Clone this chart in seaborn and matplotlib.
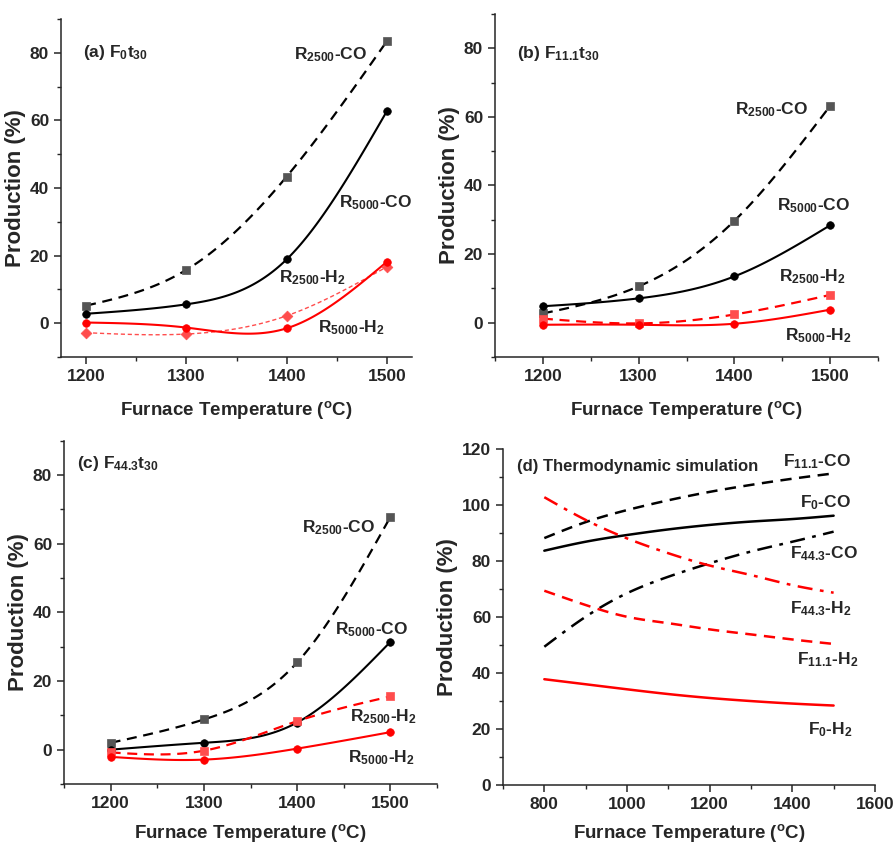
import numpy as np
import seaborn as sns
import matplotlib.pyplot as plt
from matplotlib import font_manager
from matplotlib.ticker import MultipleLocator

# furnace experiments (panels a-c)
temps = [1200, 1300, 1400, 1500]

a_r2500_co = [5.2, 15.8, 43.4, 83.5]
a_r5000_co = [2.8, 5.6, 18.9, 62.8]
a_r2500_h2 = [-2.8, -3.2, 2.2, 16.7]
a_r5000_h2 = [0.2, -1.3, -1.5, 18.2]

b_r2500_co = [2.7, 10.6, 29.7, 63.2]
b_r5000_co = [4.8, 7.1, 13.5, 28.4]
b_r2500_h2 = [1.2, -0.2, 2.4, 8.1]
b_r5000_h2 = [-0.6, -0.6, -0.3, 3.8]

c_r2500_co = [2.0, 8.8, 25.4, 67.8]
c_r5000_co = [0.0, 2.0, 7.9, 31.4]
c_r2500_h2 = [-0.8, -0.3, 8.3, 15.5]
c_r5000_h2 = [-2.1, -2.9, 0.3, 5.1]

# thermodynamic simulation (panel d)
sim_temps = [800, 900, 1000, 1100, 1200, 1300, 1400, 1500]
f111_co = [88.3, 94.0, 98.3, 101.8, 104.8, 107.3, 109.5, 111.4]
f0_co = [83.8, 87.0, 89.4, 91.4, 93.0, 94.2, 95.1, 96.3]
f443_co = [49.5, 60.2, 68.6, 74.5, 79.3, 83.5, 87.0, 90.6]
f443_h2 = [102.9, 94.8, 88.2, 82.9, 78.5, 75.1, 71.5, 68.8]
f111_h2 = [69.5, 64.4, 60.2, 57.9, 55.7, 53.9, 52.1, 50.5]
f0_h2 = [37.9, 36.1, 34.3, 32.6, 31.2, 30.1, 29.2, 28.5]

sns.set_style("ticks")
names = {f.name for f in font_manager.fontManager.ttflist}
fam = "Liberation Sans Narrow" if "Liberation Sans Narrow" in names else "Liberation Sans"
plt.rcParams["font.family"] = [fam, "DejaVu Sans"]
plt.rcParams["font.weight"] = "bold"
plt.rcParams["axes.labelweight"] = "bold"
plt.rcParams["mathtext.fontset"] = "custom"
for k in ["rm", "it", "bf", "sf"]:
    plt.rcParams["mathtext." + k] = fam + ":bold"
plt.rcParams["mathtext.default"] = "rm"


def spline(x, y, n=120):
    # natural cubic spline, used only to draw the connecting line smoothly
    x = np.asarray(x, float)
    y = np.asarray(y, float)
    k = len(x)
    h = np.diff(x)
    A = np.zeros((k, k))
    r = np.zeros(k)
    A[0, 0] = A[-1, -1] = 1
    for i in range(1, k - 1):
        A[i, i - 1] = h[i - 1]
        A[i, i] = 2 * (h[i - 1] + h[i])
        A[i, i + 1] = h[i]
        r[i] = 3 * ((y[i + 1] - y[i]) / h[i] - (y[i] - y[i - 1]) / h[i - 1])
    c = np.linalg.solve(A, r)
    b = (y[1:] - y[:-1]) / h - h * (2 * c[:-1] + c[1:]) / 3
    d = (c[1:] - c[:-1]) / (3 * h)
    xs = np.linspace(x[0], x[-1], n)
    idx = np.clip(np.searchsorted(x, xs) - 1, 0, k - 2)
    dx = xs - x[idx]
    return xs, y[idx] + b[idx] * dx + c[idx] * dx ** 2 + d[idx] * dx ** 3


def curve(ax, x, y, color, ls, lw, marker=None, mcolor=None, s=30):
    xs, ys = spline(x, y)
    sns.lineplot(x=xs, y=ys, ax=ax, color=color, linestyle=ls, linewidth=lw,
                 estimator=None, sort=False)
    if marker:
        sns.scatterplot(x=x, y=y, ax=ax, color=mcolor, marker=marker, s=s,
                        edgecolor=mcolor, linewidth=0.5, zorder=5)


def style(ax, xlim, ylim, xmaj, xmin, ymaj, ymin, pad=11):
    ax.set_xlim(*xlim)
    ax.set_ylim(*ylim)
    ax.xaxis.set_major_locator(MultipleLocator(xmaj))
    ax.xaxis.set_minor_locator(MultipleLocator(xmin))
    ax.yaxis.set_major_locator(MultipleLocator(ymaj))
    ax.yaxis.set_minor_locator(MultipleLocator(ymin))
    sns.despine(ax=ax)
    for s in ["left", "bottom"]:
        ax.spines[s].set_linewidth(1.1)
    ax.tick_params(which="major", length=5, width=1.1, labelsize=12.5)
    ax.tick_params(which="minor", length=3, width=1.0)
    ax.set_xlabel(r"Furnace Temperature ($^{o}$C)", fontsize=13.5, labelpad=pad)
    ax.set_ylabel("Production (%)", fontsize=16, labelpad=3)


def label(ax, x, y, s, ha="center", size=12.5):
    ax.text(x, y, s, ha=ha, va="center", fontsize=size, fontweight="bold")


fig = plt.figure(figsize=(8.95, 8.47), dpi=100)
ax_a = fig.add_axes([0.0682, 0.5785, 0.3922, 0.399])
ax_b = fig.add_axes([0.5531, 0.5785, 0.4279, 0.405])
ax_c = fig.add_axes([0.0715, 0.0744, 0.4168, 0.4053])
ax_d = fig.add_axes([0.562, 0.0728, 0.4156, 0.3967])

dash = (0, (4.5, 3))
grey = "#555555"
red = "#ff0000"
lred = "#ff4d4d"

# (a)
curve(ax_a, temps, a_r2500_co, "black", dash, 1.6, "s", grey)
curve(ax_a, temps, a_r5000_co, "black", "-", 1.5, "o", "black")
curve(ax_a, temps, a_r2500_h2, lred, (0, (3, 2)), 1.0, "D", lred)
curve(ax_a, temps, a_r5000_h2, red, "-", 1.5, "o", red)
style(ax_a, (1175, 1525), (-10, 90), 100, 50, 20, 10)
label(ax_a, 1197, 80, r"(a) F$_{0}$t$_{30}$", ha="left")
label(ax_a, 1444, 79.4, r"R$_{2500}$-CO")
label(ax_a, 1489, 35.7, r"R$_{5000}$-CO")
label(ax_a, 1426, 13.5, r"R$_{2500}$-H$_{2}$")
label(ax_a, 1465, -1.3, r"R$_{5000}$-H$_{2}$")

# (b)
curve(ax_b, temps, b_r2500_co, "black", dash, 1.6, "s", grey)
curve(ax_b, temps, b_r5000_co, "black", "-", 1.5, "o", "black")
curve(ax_b, temps, b_r2500_h2, red, dash, 1.6, "s", lred)
curve(ax_b, temps, b_r5000_h2, red, "-", 1.5, "o", red)
style(ax_b, (1150, 1550), (-10, 90), 100, 50, 20, 10)
label(ax_b, 1173, 78.5, r"(b) F$_{11.1}$t$_{30}$", ha="left")
label(ax_b, 1439, 62.2, r"R$_{2500}$-CO")
label(ax_b, 1483, 34.2, r"R$_{5000}$-CO")
label(ax_b, 1482, 13.5, r"R$_{2500}$-H$_{2}$")
label(ax_b, 1488, -3.9, r"R$_{5000}$-H$_{2}$")

# (c)
curve(ax_c, temps, c_r2500_co, "black", dash, 1.6, "s", grey)
curve(ax_c, temps, c_r5000_co, "black", "-", 1.5, "o", "black")
curve(ax_c, temps, c_r2500_h2, red, dash, 1.6, "s", lred)
curve(ax_c, temps, c_r5000_h2, red, "-", 1.5, "o", red)
style(ax_c, (1150, 1550), (-10, 90), 100, 50, 20, 10, pad=8)
label(ax_c, 1164, 83.4, r"(c) F$_{44.3}$t$_{30}$", ha="left")
label(ax_c, 1445, 64.7, r"R$_{2500}$-CO")
label(ax_c, 1480, 35.1, r"R$_{5000}$-CO")
label(ax_c, 1493, 9.7, r"R$_{2500}$-H$_{2}$")
label(ax_c, 1490, -2.4, r"R$_{5000}$-H$_{2}$")

# (d)
dashdot = (0, (6, 3, 1.5, 3))
curve(ax_d, sim_temps, f111_co, "black", (0, (4.5, 3)), 1.8)
curve(ax_d, sim_temps, f0_co, "black", "-", 1.8)
curve(ax_d, sim_temps, f443_co, "black", dashdot, 1.8)
curve(ax_d, sim_temps, f443_h2, red, dashdot, 1.8)
curve(ax_d, sim_temps, f111_h2, red, (0, (4.5, 3)), 1.8)
curve(ax_d, sim_temps, f0_h2, red, "-", 1.8)
style(ax_d, (700, 1600), (0, 120), 200, 100, 20, 10, pad=7)
label(ax_d, 733, 113.8, "(d) Thermodynamic simulation", ha="left", size=12)
label(ax_d, 1459, 115.6, r"F$_{11.1}$-CO")
label(ax_d, 1481, 101.0, r"F$_{0}$-CO")
label(ax_d, 1476, 82.9, r"F$_{44.3}$-CO")
label(ax_d, 1470, 63.2, r"F$_{44.3}$-H$_{2}$")
label(ax_d, 1486, 44.8, r"F$_{11.1}$-H$_{2}$")
label(ax_d, 1492, 19.8, r"F$_{0}$-H$_{2}$")

fig.savefig("out.png", dpi=100)
